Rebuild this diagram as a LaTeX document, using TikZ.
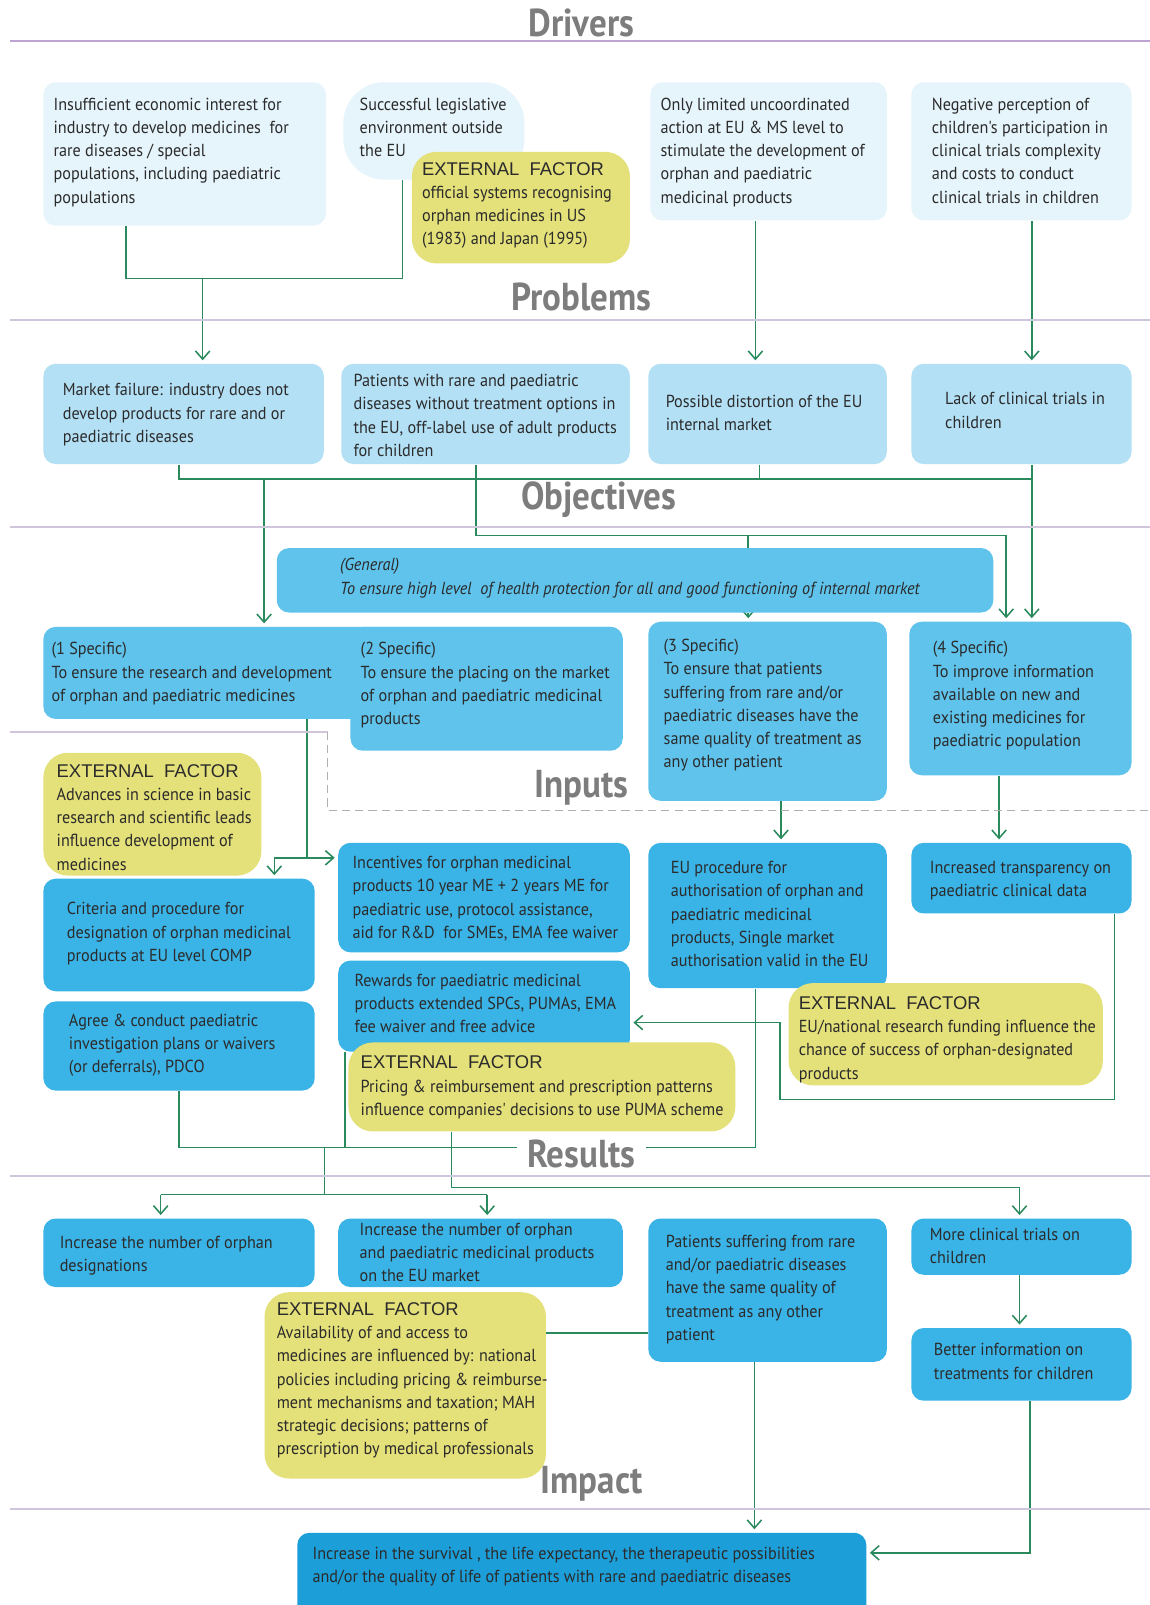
\documentclass[tikz,border=0pt]{standalone}
\usepackage{fontspec}
\setmainfont{PT Sans}
\newfontfamily\bodyfont[FakeStretch=0.93]{PT Sans}
\newfontfamily\headfont[FakeStretch=0.9]{PT Sans}
\newfontfamily\extfont{Liberation Sans}
\usetikzlibrary{arrows.meta,backgrounds}

\definecolor{drvblue}{HTML}{E6F4FB}
\definecolor{prbblue}{HTML}{B3E0F5}
\definecolor{objblue}{HTML}{5FC3EC}
\definecolor{inpblue}{HTML}{3AB3E6}
\definecolor{impblue}{HTML}{1C9ED9}
\definecolor{extyellow}{HTML}{E4E07A}
\definecolor{linkgreen}{HTML}{2A8A5E}
\definecolor{headgray}{HTML}{7D7D7D}
\definecolor{inkgray}{HTML}{2B2B2B}
\definecolor{lilac}{HTML}{CFC6DC}
\definecolor{lilacdk}{HTML}{BFA3D3}
\definecolor{dashgray}{HTML}{B0B0B0}

\newcommand{\panel}[6]{%
  \node[#2,minimum width={(#5-#3)*0.5pt},minimum height={(#6-#4)*0.5pt}] (#1) at (#3,#4) {};}
\newcommand{\extern}{{\extfont\fontsize{9}{11.35}\selectfont EXTERNAL\ \ FACTOR}}

\begin{document}
\begin{tikzpicture}[x=0.5pt,y=-0.5pt,
    box/.style={anchor=north west,inner sep=0pt,rounded corners=6pt},
    drv/.style={box,fill=drvblue},
    prb/.style={box,fill=prbblue},
    obj/.style={box,fill=objblue},
    inp/.style={box,fill=inpblue},
    imp/.style={box,fill=impblue},
    ext/.style={box,fill=extyellow,rounded corners=12pt},
    txt/.style={anchor=north west,yshift=5.4pt,align=left,inner sep=0pt,text=inkgray,
      font=\bodyfont\fontsize{8.5}{11.35}\selectfont,execute at begin node=\strut},
    head/.style={font=\headfont\bfseries\fontsize{19}{21}\selectfont,text=headgray},
    lane/.style={draw=lilac,line width=1pt},
    link/.style={draw=linkgreen,line width=0.75pt},
    arr/.style={link,-{Straight Barb[length=4pt,width=7pt]},shorten >=1.5pt}]
\useasboundingbox (0,0) rectangle (1123,1568);

\draw[lane,draw=lilacdk,line width=1.2pt] (10,40) -- (1123,40);
\draw[lane] (10,313) -- (1123,313);
\draw[lane] (10,515) -- (1123,515);
\draw[lane] (10,715) -- (320,715);
\draw[draw=dashgray,line width=0.6pt,dash pattern=on 4pt off 2.5pt] (320,715) -- (320,792) -- (1123,792);
\draw[lane] (10,1149) -- (1123,1149);
\draw[lane] (10,1474) -- (1123,1474);

\node[head] (hdrv) at (568,22) {Drivers};
\node[head] (hprb) at (568,290) {Problems};
\node[head] (hobj) at (585,488) {Objectives};
\node[head] (hinp) at (568,770) {Inputs};
\node[head,fill=white,inner xsep=5pt,inner ysep=1pt] (hres) at (568,1127) {Results};
\node[head] (himp) at (578,1450) {Impact};

\panel{d1}{drv}{42}{80}{318}{220}
\panel{d2}{drv,rounded corners=20pt}{335}{80}{512}{175}
\panel{e1}{ext}{402}{148}{615}{257}
\panel{d3}{drv}{635}{80}{866}{215}
\panel{d4}{drv}{890}{80}{1105}{215}
\node[txt] (t-d1) at (52,106) {Insufficient economic interest for\\industry to develop medicines\ \ for\\rare diseases / special\\populations, including paediatric\\populations};
\node[txt] (t-d2) at (351,106) {Successful legislative\\environment outside\\the EU};
\node[txt] (t-e1) at (412,169) {\extern\\official systems recognising\\orphan medicines in US\\(1983) and Japan (1995)};
\node[txt] (t-d3) at (645,106) {Only limited uncoordinated\\action at EU \& MS level to\\stimulate the development of\\orphan and paediatric\\medicinal products};
\node[txt] (t-d4) at (910,106) {Negative perception of\\children's participation in\\clinical trials complexity\\and costs to conduct\\clinical trials in children};

\panel{p1}{prb}{42}{355}{316}{453}
\panel{p2}{prb}{333}{355}{615}{453}
\panel{p3}{prb}{633}{355}{866}{453}
\panel{p4}{prb}{890}{355}{1105}{453}
\node[txt] (t-p1) at (61,385) {Market failure: industry does not\\develop products for rare and or\\paediatric diseases};
\node[txt] (t-p2) at (345,376) {Patients with rare and paediatric\\diseases without treatment options in\\the EU, off-label use of adult products\\for children};
\node[txt] (t-p3) at (650,396) {Possible distortion of the EU\\internal market};
\node[txt] (t-p4) at (923,394) {Lack of clinical trials in\\children};

\panel{og}{obj}{270}{535}{970}{598}
\panel{o1}{obj}{42}{612}{608}{702}
\panel{o2}{obj}{342}{612}{608}{733}
\panel{o3}{obj}{633}{607}{866}{782}
\panel{o4}{obj}{888}{607}{1105}{757}
\node[txt,font=\bodyfont\itshape\fontsize{8.5}{11.35}\selectfont] (t-og) at (332,556) {(General)\\To ensure high level\ \ of health protection for all and good functioning of internal market};
\node[txt] (t-o1) at (50,638) {(1 Specific)\\To ensure the research and development\\of orphan and paediatric medicines};
\node[txt] (t-o2) at (352,638) {(2 Specific)\\To ensure the placing on the market\\of orphan and paediatric medicinal\\products};
\node[txt] (t-o3) at (648,635) {(3 Specific)\\To ensure that patients\\suffering from rare and/or\\paediatric diseases have the\\same quality of treatment as\\any other patient};
\node[txt] (t-o4) at (911,637) {(4 Specific)\\To improve information\\available on new and\\existing medicines for\\paediatric population};

\panel{e2}{ext}{42}{735}{255}{855}
\panel{i1}{inp}{42}{858}{307}{968}
\panel{i2}{inp}{330}{823}{615}{930}
\panel{i3}{inp}{633}{823}{866}{965}
\panel{i4}{inp}{890}{823}{1105}{892}
\panel{i5}{inp}{42}{978}{307}{1065}
\panel{i6}{inp}{330}{938}{615}{1027}
\panel{e3}{ext}{770}{960}{1077}{1060}
\panel{e4}{ext}{340}{1018}{718}{1105}
\node[txt] (t-e2) at (55,757) {\extern\\Advances in science in basic\\research and scientific leads\\influence development of\\medicines};
\node[txt] (t-i1) at (65,892) {Criteria and procedure for\\designation of orphan medicinal\\products at EU level COMP};
\node[txt] (t-i2) at (344,847) {Incentives for orphan medicinal\\products 10 year ME + 2 years ME for\\paediatric use, protocol assistance,\\aid for R\&D\ \ for SMEs, EMA fee waiver};
\node[txt] (t-i3) at (655,852) {EU procedure for\\authorisation of orphan and\\paediatric medicinal\\products, Single market\\authorisation valid in the EU};
\node[txt] (t-i4) at (908,852) {Increased transparency on\\paediatric clinical data};
\node[txt] (t-i5) at (67,1001) {Agree \& conduct paediatric\\investigation plans or waivers\\(or deferrals), PDCO};
\node[txt] (t-i6) at (346,962) {Rewards for paediatric medicinal\\products extended SPCs, PUMAs, EMA\\fee waiver and free advice};
\node[txt] (t-e3) at (780,984) {\extern\\EU/national research funding influence the\\chance of success of orphan-designated\\products};
\node[txt] (t-e4) at (352,1042) {\extern\\Pricing \& reimbursement and prescription patterns\\influence companies' decisions to use PUMA scheme};

\panel{e5}{ext}{258}{1262}{533}{1444}
\panel{r1}{inp}{42}{1190}{307}{1257}
\panel{r2}{inp}{330}{1190}{608}{1257}
\panel{r3}{inp}{633}{1190}{866}{1330}
\panel{r4}{inp}{890}{1190}{1105}{1245}
\panel{r5}{inp}{890}{1297}{1105}{1368}
\node[txt] (t-r1) at (58,1218) {Increase the number of orphan\\designations};
\node[txt] (t-r2) at (351,1205) {Increase the number of orphan\\and paediatric medicinal products\\on the EU market};
\node[txt] (t-r3) at (650,1217) {Patients suffering from rare\\and/or paediatric diseases\\have the same quality of\\treatment as any other\\patient};
\node[txt] (t-r4) at (908,1210) {More clinical trials on\\children};
\node[txt] (t-r5) at (912,1323) {Better information on\\treatments for children};
\node[txt] (t-e5) at (270,1283) {\extern\\Availability of and access to\\medicines are influenced by: national\\policies including pricing \& reimburse-\\ment mechanisms and taxation; MAH\\strategic decisions; patterns of\\prescription by medical professionals};

\panel{im}{imp}{290}{1497}{846}{1580}
\node[txt] (t-im) at (305,1522) {Increase in the survival , the life expectancy, the therapeutic possibilities\\and/or the quality of life of patients with rare and paediatric diseases};

\coordinate (a1) at (123,272);
\coordinate (a2) at (393,272);
\coordinate (a3) at (198,272);
\coordinate (a4) at (738,300);
\coordinate (a5) at (1008,300);
\coordinate (b1) at (175,468);
\coordinate (b2) at (1008,468);
\coordinate (b3) at (742,468);
\coordinate (b4) at (258,468);
\coordinate (c1) at (465,523);
\coordinate (c2) at (983,523);
\coordinate (c3) at (731,523);
\coordinate (dj) at (300,838);
\coordinate (dk) at (268,838);
\coordinate (f1) at (763,800);
\coordinate (f2) at (976,800);
\coordinate (g1) at (1089,1074);
\coordinate (g2) at (762,1074);
\coordinate (g3) at (762,999);
\coordinate (h1) at (175,1121);
\coordinate (h3) at (337,1121);
\coordinate (h4) at (738,1121);
\coordinate (h6) at (317,1121);
\coordinate (h7) at (317,1167);
\coordinate (k1) at (157,1167);
\coordinate (k2) at (476,1167);
\coordinate (m2) at (441,1160);
\coordinate (m3) at (996,1160);
\coordinate (q1) at (583,1302);
\coordinate (s1) at (737,1400);
\coordinate (t1) at (1006,1517);

\begin{scope}[on background layer]
\fill[white] (0,0) rectangle (1123,1568);
\draw[link] (d1.south -| a1) -- (a1) -- (a2) -- (d2.south -| a2);
\draw[arr] (a3) -- (p1.north -| a3);
\draw[arr] (d3.south -| a4) -- (p3.north -| a4);
\draw[arr] (d4.south -| a5) -- (p4.north -| a5);
\draw[link] (p1.south -| b1) -- (b1) -- (b2);
\draw[link] (p3.south -| b3) -- (b3);
\draw[arr] (p4.south -| b2) -- (o4.north -| b2);
\draw[arr] (b4) -- (o1.north -| b4);
\draw[arr] (p2.south -| c1) -- (c1) -- (c2) -- (o4.north -| c2);
\draw[link] (c3) -- (og.north -| c3);
\draw[arr] (og.south -| c3) -- (o3.north -| c3);
\draw[link] (o1.south -| dj) -- (dj);
\draw[arr] (dj) -- (i2.west |- dj);
\draw[arr] (dj) -- (dk) -- (i1.north -| dk);
\draw[arr] (o3.south -| f1) -- (i3.north -| f1);
\draw[arr] (o4.south -| f2) -- (i4.north -| f2);
\draw[arr] (i4.south -| g1) -- (g1) -- (g2) -- (g3) -- (i6.east |- g3);
\draw[link] (i5.south -| h1) -- (h1) -- (h4) -- (i3.south -| h4);
\draw[link] (i6.south -| h3) -- (h3);
\draw[link] (h6) -- (h7);
\draw[link] (k1) -- (k2);
\draw[arr] (k1) -- (r1.north -| k1);
\draw[arr] (k2) -- (r2.north -| k2);
\draw[arr] (e4.south -| m2) -- (m2) -- (m3) -- (r4.north -| m3);
\draw[arr] (r4.south -| m3) -- (r5.north -| m3);
\draw[link] (e5.east |- q1) -- (r3.west |- q1);
\draw[arr] (r3.south -| s1) -- (im.north -| s1);
\draw[arr] (r5.south -| t1) -- (t1) -- (im.east |- t1);
\end{scope}
\end{tikzpicture}
\end{document}
